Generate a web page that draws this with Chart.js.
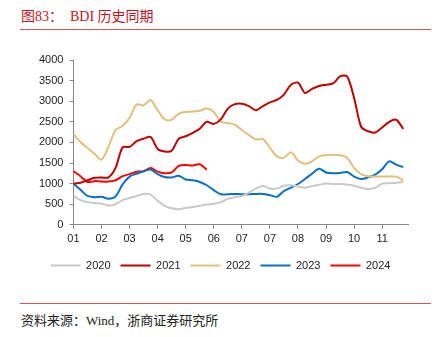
<!DOCTYPE html>
<html>
<head>
<meta charset="utf-8">
<script src="https://cdn.jsdelivr.net/npm/chart.js@4/dist/chart.umd.min.js"></script>
<style>
  body { margin: 0; background: #fff; width: 444px; height: 337px; position: relative; overflow: hidden; }
  #title { position: absolute; left: 21px; top: 5px; font: 14px "Liberation Serif", "Noto Sans CJK SC", serif; color: #c0161d; white-space: pre; }
  .rule { position: absolute; left: 20px; width: 411px; height: 1px; background: #d9534f; }
  #source { position: absolute; left: 21px; top: 310px; font: 13px "Liberation Serif", "Noto Sans CJK SC", serif; color: #222; white-space: pre; }
  #wrap { position: absolute; left: 0; top: 46px; width: 432px; height: 235px; }
</style>
</head>
<body>
<div id="title">图83：  BDI 历史同期</div>
<div class="rule" style="top:29px"></div>
<div id="wrap"><canvas id="bdiChart"></canvas></div>
<div class="rule" style="top:303px"></div>
<div id="source">资料来源：Wind，浙商证券研究所</div>
<script>
// tick labels along the x axis (one per month mark)
const monthLabels = ['01', '02', '03', '04', '05', '06', '07', '07', '08', '09', '10', '11'];
// samples are spaced a quarter of a month mark apart
const STEP = 0.25;

const bdi2020 = [700, 600, 550, 530, 510, 470, 500, 600, 650, 700, 750, 730,
                 580, 460, 400, 380, 410, 430, 460, 490, 510, 550, 630, 670,
                 700, 780, 880, 940, 880, 880, 950, 960, 930, 900, 940, 970,
                 1000, 990, 990, 980, 950, 900, 870, 900, 1000, 1010, 1020, 1040];
const bdi2021 = [1000, 1020, 1080, 1140, 1150, 1150, 1380, 1880, 1890, 2030, 2090, 2130,
                 1840, 1780, 1800, 2090, 2150, 2230, 2330, 2500, 2450, 2560, 2820, 2930,
                 2940, 2880, 2780, 2880, 2970, 3030, 3160, 3400, 3450, 3200, 3300, 3370,
                 3400, 3430, 3600, 3600, 3080, 2380, 2270, 2240, 2360, 2500, 2550, 2330];
const bdi2022 = [2194, 2010, 1863, 1722, 1580, 1900, 2300, 2400, 2600, 2920, 2900, 3030,
                 2780, 2560, 2550, 2700, 2740, 2750, 2770, 2820, 2740, 2500, 2470, 2430,
                 2300, 2180, 2070, 2080, 1870, 1660, 1630, 1760, 1560, 1480, 1540, 1660,
                 1690, 1700, 1690, 1630, 1380, 1230, 1180, 1170, 1170, 1170, 1170, 1080];
const bdi2023 = [1000, 850, 700, 670, 680, 630, 690, 980, 1170, 1240, 1300, 1340,
                 1230, 1160, 1150, 1190, 1100, 1080, 1040, 960, 840, 740, 740, 750,
                 740, 740, 750, 750, 720, 680, 820, 900, 990, 1110, 1240, 1360,
                 1270, 1250, 1260, 1280, 1170, 1110, 1150, 1220, 1350, 1540, 1460, 1400];
const bdi2024 = [1300, 1180, 1040, 1060, 1050, 1050, 1080, 1180, 1230, 1290, 1300, 1380,
                 1290, 1250, 1270, 1430, 1450, 1440, 1470, 1340];

const yearNames = ['2020', '2021', '2022', '2023', '2024'];
const yearColors = ['#c9c9c9', '#c00000', '#e0c07c', '#0a6fc4', '#ff0000'];
const yearValues = [bdi2020, bdi2021, bdi2022, bdi2023, bdi2024];

const toPoints = vals => vals.map((v, i) => ({ x: i * STEP, y: v }));

const ctx = document.getElementById('bdiChart').getContext('2d');
new Chart(ctx, {
    type: 'line',
    data: {
        datasets: yearNames.map((name, k) => ({
            label: name,
            data: toPoints(yearValues[k]),
            borderColor: yearColors[k],
            backgroundColor: yearColors[k],
            borderWidth: 2,
            pointRadius: 0,
            tension: 0.3,
            fill: false
        }))
    },
    options: {
        responsive: true,
        maintainAspectRatio: false,
        animation: false,
        layout: { padding: { left: 33, right: 24, top: 14, bottom: 0 } },
        plugins: {
            tooltip: { enabled: false },
            legend: {
                position: 'bottom',
                labels: {
                    usePointStyle: true,
                    pointStyle: 'line',
                    pointStyleWidth: 30,
                    color: '#222',
                    padding: 10,
                    font: { family: 'Liberation Sans', size: 11 }
                }
            }
        },
        scales: {
            x: {
                type: 'linear',
                min: 0,
                max: 11.92,
                grid: { drawOnChartArea: false, drawTicks: true, tickLength: 4, color: '#888' },
                border: { color: '#888' },
                ticks: {
                    stepSize: 1,
                    includeBounds: false,
                    autoSkip: false,
                    maxRotation: 0,
                    padding: 4,
                    color: '#222',
                    font: { family: 'Liberation Sans', size: 11 },
                    callback: v => monthLabels[v]
                }
            },
            y: {
                min: 0,
                max: 4000,
                grid: { drawOnChartArea: false, drawTicks: true, tickLength: 4, color: '#888' },
                border: { color: '#888' },
                ticks: {
                    stepSize: 500,
                    padding: 6,
                    color: '#222',
                    font: { family: 'Liberation Sans', size: 11 },
                    callback: v => String(v)
                }
            }
        }
    }
});
</script>
</body>
</html>
